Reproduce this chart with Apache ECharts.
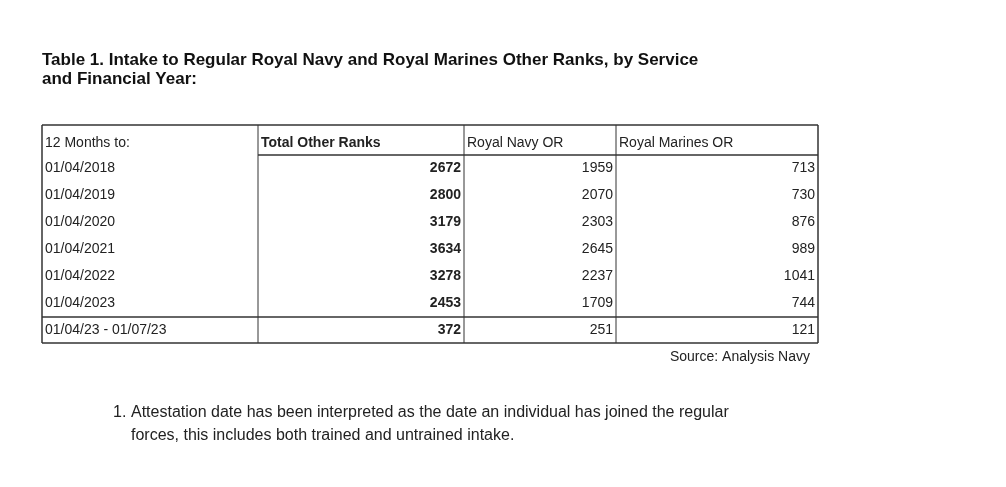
<!DOCTYPE html><html><head><meta charset="utf-8">
<script src="https://cdn.jsdelivr.net/npm/echarts@6/dist/echarts.min.js"></script>
<style>html,body{margin:0;background:#fff}#c{width:1006px;height:487px}</style></head><body><div id="c"></div>
<script>
var headers=["12 Months to:","Total Other Ranks","Royal Navy OR","Royal Marines OR"];
var periods=["01/04/2018","01/04/2019","01/04/2020","01/04/2021","01/04/2022","01/04/2023","01/04/23 - 01/07/23"];
var totalOR=[2672,2800,3179,3634,3278,2453,372];
var navyOR=[1959,2070,2303,2645,2237,1709,251];
var marinesOR=[713,730,876,989,1041,744,121];

(function(){
var chart=echarts.init(document.getElementById('c'));
var F='Liberation Sans, Arial, sans-serif', C='#222';
var colX=[42,258,464,616,818];
var T0=125, headH=30, rowH=27, B0=343;
var el=[];
function line(x1,y1,x2,y2,w){el.push({type:'line',shape:{x1:x1,y1:y1,x2:x2,y2:y2},style:{stroke:'#333',lineWidth:w||1}});}
function txt(x,y,s,size,bold,align,col){el.push({type:'text',x:x,y:y,style:{text:s,fontSize:size||14,fontFamily:F,fontWeight:bold?'bold':'normal',fill:col||C,align:align||'left',verticalAlign:'middle'}});}
txt(42,60,'Table 1. Intake to Regular Royal Navy and Royal Marines Other Ranks, by Service',17,true,'left','#111');
txt(42,79,'and Financial Year:',17,true,'left','#111');
line(colX[0],T0,colX[4],T0,1.5);line(colX[0],B0,colX[4],B0,1.5);
colX.forEach(function(x,i){line(x,T0,x,B0,(i==0||i==4)?1.5:1);});
line(colX[1],T0+headH,colX[4],T0+headH,1.5);
var sepY=T0+headH+rowH*6;
line(colX[0],sepY,colX[4],sepY,1.5);
headers.forEach(function(h,i){txt(colX[i]+3,T0+headH/2+3,h,14,i==1);});
periods.forEach(function(p,r){
  var yc=(r<6?T0+headH+rowH*r:sepY)+13;
  txt(colX[0]+3,yc,p);
  [totalOR,navyOR,marinesOR].forEach(function(arr,c){
    txt(colX[c+2]-3,yc,String(arr[r]),14,c==0,'right');
  });
});
txt(810,357,'Source: Analysis Navy',14,false,'right');
txt(113,413,'1.',16);
txt(131,413,'Attestation date has been interpreted as the date an individual has joined the regular',16);
txt(131,436,'forces, this includes both trained and untrained intake.',16);
chart.setOption({animation:false,graphic:{elements:el}});
})();
</script></body></html>
